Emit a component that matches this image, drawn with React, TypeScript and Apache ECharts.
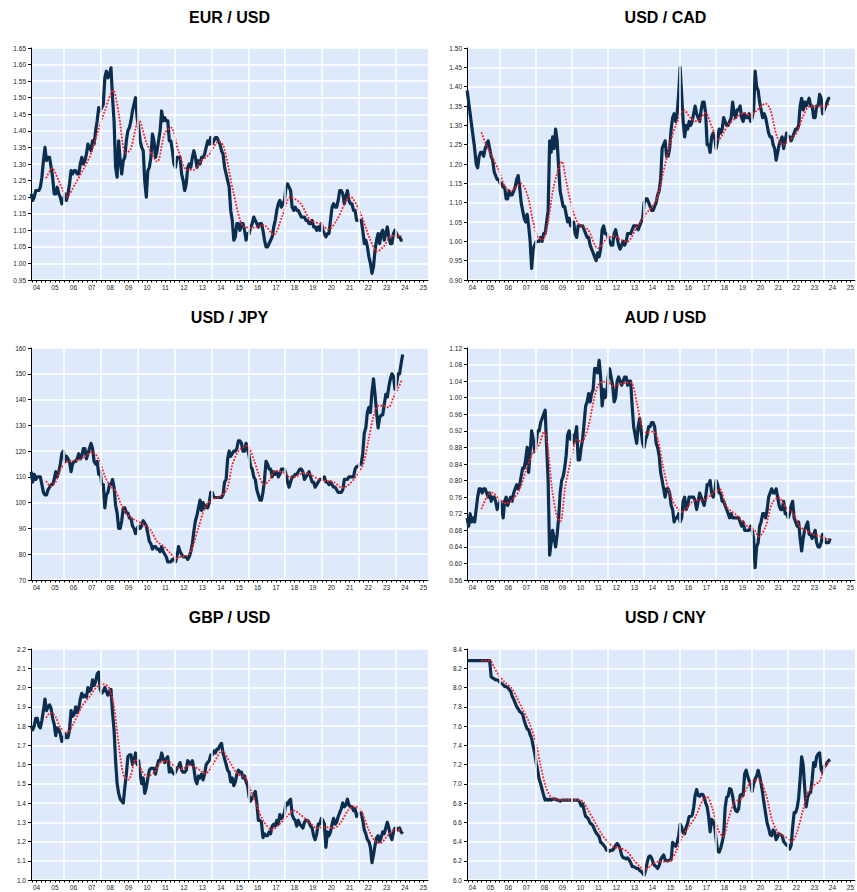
import React, { useEffect, useRef } from "react";
import * as echarts from "echarts";

// Monthly observations, first one = mid-March 2004, one per month through end of April 2024
const START_YEAR = 2004 + 2.5 / 12;
const MONTH = 1 / 12;
const X_MIN = 2004.2;
const X_MAX = 2025.75;

const yearLabels = [2004, 2005, 2006, 2007, 2008, 2009, 2010, 2011, 2012, 2013, 2014, 2015, 2016, 2017, 2018, 2019, 2020, 2021, 2022, 2023, 2024, 2025];
const gridYears = [2006, 2008, 2010, 2012, 2014, 2016, 2018, 2020, 2022, 2024];

const eurusd = [
  1.21, 1.19, 1.20, 1.22, 1.22, 1.22, 1.23, 1.26, 1.31, 1.35,
  1.31, 1.32, 1.32, 1.29, 1.26, 1.21, 1.21, 1.23, 1.21, 1.20, 1.18, 1.19,
  1.21, 1.19, 1.21, 1.24, 1.28, 1.27, 1.28, 1.28, 1.27, 1.27, 1.30, 1.32,
  1.30, 1.31, 1.33, 1.36, 1.35, 1.34, 1.37, 1.36, 1.40, 1.43, 1.47, 1.46,
  1.47, 1.48, 1.56, 1.58, 1.56, 1.57, 1.59, 1.50, 1.43, 1.29, 1.26, 1.37,
  1.31, 1.27, 1.31, 1.32, 1.37, 1.40, 1.41, 1.43, 1.46, 1.48, 1.50, 1.44,
  1.41, 1.37, 1.35, 1.34, 1.25, 1.20, 1.28, 1.29, 1.32, 1.39, 1.37, 1.32,
  1.34, 1.37, 1.40, 1.46, 1.43, 1.44, 1.43, 1.43, 1.37, 1.37, 1.34, 1.30,
  1.29, 1.32, 1.32, 1.32, 1.27, 1.25, 1.22, 1.24, 1.29, 1.30, 1.29, 1.32,
  1.34, 1.32, 1.29, 1.31, 1.30, 1.32, 1.32, 1.33, 1.35, 1.37, 1.36, 1.38,
  1.36, 1.37, 1.38, 1.38, 1.37, 1.36, 1.34, 1.33, 1.29, 1.27, 1.25, 1.23,
  1.16, 1.13, 1.07, 1.08, 1.12, 1.12, 1.10, 1.12, 1.12, 1.10, 1.07, 1.09,
  1.09, 1.11, 1.12, 1.14, 1.13, 1.12, 1.11, 1.12, 1.12, 1.10, 1.07, 1.05,
  1.05, 1.06, 1.07, 1.08, 1.11, 1.13, 1.16, 1.18, 1.19, 1.17, 1.18, 1.19,
  1.23, 1.24, 1.23, 1.22, 1.17, 1.16, 1.17, 1.16, 1.16, 1.15, 1.14, 1.14,
  1.14, 1.13, 1.13, 1.12, 1.12, 1.13, 1.11, 1.11, 1.10, 1.11, 1.10, 1.12,
  1.10, 1.09, 1.08, 1.09, 1.09, 1.13, 1.17, 1.18, 1.17, 1.17, 1.19, 1.22,
  1.22, 1.21, 1.18, 1.20, 1.22, 1.19, 1.18, 1.18, 1.16, 1.16, 1.13, 1.13,
  1.13, 1.13, 1.10, 1.06, 1.07, 1.05, 1.02, 1.00, 0.97, 0.99, 1.04, 1.07,
  1.09, 1.06, 1.09, 1.10, 1.07, 1.09, 1.11, 1.08, 1.06, 1.06, 1.09, 1.10,
  1.09, 1.08, 1.08, 1.07, 1.07,
];

const usdcad = [
  1.39, 1.36, 1.33, 1.30, 1.27, 1.24, 1.20, 1.19, 1.22, 1.23,
  1.23, 1.22, 1.24, 1.25, 1.26, 1.24, 1.22, 1.21, 1.18, 1.17, 1.16, 1.16,
  1.15, 1.15, 1.14, 1.14, 1.11, 1.11, 1.13, 1.12, 1.12, 1.13, 1.14, 1.16,
  1.17, 1.14, 1.10, 1.08, 1.06, 1.05, 1.07, 1.04, 1.00, 0.93, 0.98, 0.99,
  1.00, 1.00, 1.00, 1.01, 1.00, 1.02, 1.02, 1.05, 1.08, 1.26, 1.23, 1.27,
  1.24, 1.29, 1.26, 1.19, 1.13, 1.11, 1.09, 1.09, 1.07, 1.05, 1.06, 1.04,
  1.05, 1.05, 1.02, 1.01, 1.04, 1.04, 1.04, 1.04, 1.03, 1.02, 1.01, 1.01,
  0.99, 0.98, 0.97, 0.96, 0.95, 0.97, 0.96, 0.98, 1.03, 1.04, 1.02, 1.02,
  1.01, 1.00, 0.99, 0.99, 1.02, 1.03, 1.01, 0.99, 0.98, 0.99, 1.00, 0.99,
  1.00, 1.02, 1.02, 1.02, 1.03, 1.04, 1.04, 1.04, 1.03, 1.04, 1.05, 1.06,
  1.10, 1.11, 1.11, 1.10, 1.09, 1.08, 1.08, 1.09, 1.10, 1.12, 1.13, 1.16,
  1.24, 1.25, 1.26, 1.22, 1.22, 1.24, 1.29, 1.32, 1.33, 1.31, 1.33, 1.38,
  1.45, 1.38, 1.31, 1.27, 1.30, 1.29, 1.31, 1.30, 1.31, 1.33, 1.35, 1.33,
  1.32, 1.31, 1.34, 1.36, 1.36, 1.33, 1.25, 1.25, 1.23, 1.27, 1.28, 1.27,
  1.24, 1.26, 1.29, 1.28, 1.29, 1.32, 1.31, 1.30, 1.30, 1.31, 1.32, 1.36,
  1.33, 1.32, 1.34, 1.34, 1.35, 1.32, 1.31, 1.33, 1.32, 1.32, 1.33, 1.31,
  1.32, 1.34, 1.44, 1.40, 1.39, 1.36, 1.34, 1.32, 1.33, 1.32, 1.30, 1.28,
  1.27, 1.27, 1.25, 1.24, 1.21, 1.23, 1.25, 1.26, 1.27, 1.24, 1.26, 1.28,
  1.27, 1.27, 1.26, 1.27, 1.28, 1.29, 1.29, 1.30, 1.35, 1.37, 1.34, 1.36,
  1.35, 1.36, 1.37, 1.35, 1.35, 1.32, 1.32, 1.35, 1.35, 1.38, 1.37, 1.33,
  1.34, 1.35, 1.36, 1.37, 1.37,
];

const usdjpy = [
  112, 108, 111, 109, 110, 110, 110, 107, 104, 103,
  103, 105, 106, 107, 107, 109, 112, 110, 112, 115, 119, 120,
  116, 118, 117, 116, 112, 115, 116, 116, 117, 119, 117, 118,
  121, 121, 117, 119, 121, 123, 121, 116, 115, 116, 111, 112,
  107, 107, 98, 103, 104, 107, 107, 109, 106, 99, 96, 90,
  90, 93, 98, 98, 96, 96, 94, 94, 91, 90, 88, 90,
  91, 90, 91, 93, 92, 91, 88, 85, 84, 82, 83, 83,
  82, 82, 81, 83, 81, 80, 79, 77, 77, 77, 78, 78,
  77, 79, 83, 81, 80, 79, 79, 79, 78, 79, 81, 84,
  89, 93, 95, 98, 101, 97, 100, 98, 99, 98, 100, 104,
  104, 102, 102, 102, 102, 102, 102, 103, 108, 109, 117, 120,
  118, 119, 120, 120, 121, 124, 124, 123, 120, 120, 123, 121,
  118, 114, 113, 110, 109, 105, 103, 101, 101, 104, 109, 116,
  115, 113, 113, 110, 112, 111, 112, 110, 111, 113, 113, 113,
  111, 108, 106, 108, 110, 110, 111, 111, 112, 113, 113, 112,
  109, 110, 111, 112, 110, 108, 108, 106, 107, 108, 109, 109,
  109, 110, 108, 108, 107, 108, 107, 106, 106, 105, 104, 104,
  104, 105, 109, 109, 109, 110, 110, 110, 110, 113, 114, 114,
  115, 115, 119, 127, 129, 135, 137, 135, 143, 148, 142, 135,
  129, 133, 134, 134, 138, 142, 141, 145, 148, 150, 149, 144,
  146, 150, 150, 154, 157.5,
];

const audusd = [
  0.71, 0.69, 0.72, 0.70, 0.71, 0.70, 0.73, 0.76, 0.78, 0.78,
  0.77, 0.78, 0.78, 0.77, 0.76, 0.77, 0.75, 0.76, 0.76, 0.75, 0.73, 0.74,
  0.75, 0.74, 0.71, 0.75, 0.76, 0.74, 0.75, 0.76, 0.75, 0.77, 0.78, 0.79,
  0.78, 0.79, 0.81, 0.83, 0.83, 0.85, 0.88, 0.82, 0.87, 0.92, 0.90, 0.87,
  0.89, 0.92, 0.92, 0.94, 0.95, 0.96, 0.97, 0.88, 0.80, 0.62, 0.65, 0.68,
  0.66, 0.64, 0.67, 0.71, 0.77, 0.80, 0.81, 0.83, 0.86, 0.91, 0.92, 0.90,
  0.91, 0.89, 0.91, 0.93, 0.85, 0.85, 0.88, 0.90, 0.94, 0.98, 0.99, 1.01,
  0.99, 1.01, 1.02, 1.07, 1.07, 1.06, 1.09, 1.05, 0.98, 1.02, 1.00, 1.01,
  1.05, 1.07, 1.05, 1.03, 0.99, 1.00, 1.04, 1.05, 1.04, 1.03, 1.04, 1.05,
  1.05, 1.03, 1.04, 1.04, 0.98, 0.93, 0.91, 0.89, 0.93, 0.95, 0.92, 0.89,
  0.88, 0.90, 0.91, 0.93, 0.93, 0.94, 0.94, 0.93, 0.89, 0.88, 0.86, 0.82,
  0.80, 0.78, 0.76, 0.78, 0.78, 0.77, 0.74, 0.73, 0.70, 0.71, 0.71, 0.72,
  0.70, 0.71, 0.75, 0.76, 0.73, 0.74, 0.76, 0.76, 0.76, 0.76, 0.75, 0.73,
  0.75, 0.77, 0.76, 0.75, 0.74, 0.76, 0.79, 0.79, 0.80, 0.77, 0.76, 0.77,
  0.80, 0.79, 0.77, 0.77, 0.75, 0.75, 0.74, 0.73, 0.72, 0.71, 0.72, 0.71,
  0.71, 0.71, 0.71, 0.71, 0.70, 0.69, 0.70, 0.68, 0.68, 0.68, 0.68, 0.69,
  0.68, 0.66, 0.59, 0.64, 0.65, 0.69, 0.70, 0.72, 0.72, 0.71, 0.73, 0.76,
  0.77, 0.78, 0.77, 0.77, 0.78, 0.76, 0.74, 0.73, 0.73, 0.75, 0.72, 0.72,
  0.71, 0.72, 0.74, 0.75, 0.71, 0.70, 0.69, 0.70, 0.66, 0.63, 0.66, 0.68,
  0.69, 0.70, 0.67, 0.67, 0.66, 0.67, 0.68, 0.65, 0.64, 0.64, 0.65, 0.67,
  0.66, 0.65, 0.65, 0.65, 0.66,
];

const gbpusd = [
  1.80, 1.78, 1.80, 1.84, 1.84, 1.80, 1.79, 1.83, 1.88, 1.94,
  1.88, 1.90, 1.91, 1.89, 1.84, 1.81, 1.75, 1.79, 1.78, 1.76, 1.72, 1.73,
  1.76, 1.74, 1.74, 1.78, 1.88, 1.85, 1.86, 1.90, 1.87, 1.89, 1.94, 1.97,
  1.95, 1.96, 1.95, 2.00, 1.98, 1.99, 2.04, 2.01, 2.03, 2.07, 2.08, 1.99,
  1.97, 1.98, 2.00, 1.98, 1.96, 1.98, 1.99, 1.87, 1.78, 1.62, 1.50, 1.45,
  1.42, 1.41, 1.40, 1.48, 1.55, 1.64, 1.65, 1.65, 1.60, 1.62, 1.66, 1.60,
  1.62, 1.55, 1.50, 1.53, 1.45, 1.48, 1.53, 1.57, 1.58, 1.58, 1.58, 1.55,
  1.59, 1.62, 1.62, 1.66, 1.63, 1.61, 1.63, 1.64, 1.56, 1.58, 1.56, 1.55,
  1.56, 1.58, 1.59, 1.61, 1.57, 1.56, 1.56, 1.57, 1.62, 1.61, 1.60, 1.62,
  1.58, 1.52, 1.50, 1.54, 1.53, 1.55, 1.52, 1.55, 1.60, 1.61, 1.62, 1.65,
  1.65, 1.67, 1.66, 1.68, 1.68, 1.70, 1.71, 1.66, 1.63, 1.60, 1.57, 1.56,
  1.51, 1.53, 1.49, 1.51, 1.55, 1.57, 1.56, 1.56, 1.53, 1.54, 1.51, 1.49,
  1.43, 1.41, 1.43, 1.44, 1.46, 1.40, 1.31, 1.31, 1.30, 1.22, 1.24, 1.23,
  1.23, 1.25, 1.24, 1.28, 1.29, 1.28, 1.31, 1.29, 1.34, 1.32, 1.33, 1.35,
  1.40, 1.39, 1.41, 1.42, 1.34, 1.32, 1.31, 1.28, 1.31, 1.29, 1.28, 1.27,
  1.30, 1.31, 1.31, 1.30, 1.28, 1.27, 1.23, 1.21, 1.24, 1.29, 1.29, 1.32,
  1.31, 1.29, 1.17, 1.25, 1.23, 1.25, 1.29, 1.32, 1.29, 1.30, 1.33, 1.35,
  1.37, 1.40, 1.38, 1.39, 1.42, 1.39, 1.38, 1.38, 1.36, 1.37, 1.33, 1.34,
  1.35, 1.35, 1.31, 1.26, 1.24, 1.21, 1.20, 1.17, 1.09, 1.13, 1.18, 1.22,
  1.23, 1.20, 1.22, 1.25, 1.24, 1.27, 1.30, 1.27, 1.23, 1.21, 1.25, 1.27,
  1.27, 1.26, 1.27, 1.25, 1.24,
];

const usdcny = [
  8.28, 8.28, 8.28, 8.28, 8.28, 8.28, 8.28, 8.28, 8.28, 8.28,
  8.28, 8.28, 8.28, 8.28, 8.28, 8.28, 8.11, 8.10, 8.09, 8.08, 8.08, 8.07,
  8.05, 8.04, 8.03, 8.01, 8.01, 8.00, 7.98, 7.96, 7.91, 7.88, 7.84, 7.80,
  7.78, 7.75, 7.74, 7.72, 7.66, 7.61, 7.57, 7.56, 7.51, 7.47, 7.39, 7.32,
  7.22, 7.14, 7.05, 7.00, 6.94, 6.88, 6.83, 6.84, 6.83, 6.84, 6.83, 6.84,
  6.84, 6.84, 6.83, 6.83, 6.82, 6.83, 6.83, 6.83, 6.83, 6.83, 6.83, 6.83,
  6.83, 6.83, 6.83, 6.83, 6.83, 6.81, 6.77, 6.79, 6.72, 6.66, 6.65, 6.63,
  6.59, 6.58, 6.56, 6.52, 6.49, 6.47, 6.45, 6.39, 6.38, 6.36, 6.34, 6.31,
  6.31, 6.30, 6.31, 6.31, 6.33, 6.36, 6.38, 6.36, 6.32, 6.26, 6.23, 6.23,
  6.22, 6.23, 6.21, 6.18, 6.14, 6.14, 6.13, 6.12, 6.12, 6.10, 6.09, 6.07,
  6.05, 6.10, 6.18, 6.24, 6.25, 6.23, 6.18, 6.15, 6.14, 6.12, 6.15, 6.21,
  6.24, 6.26, 6.21, 6.20, 6.20, 6.21, 6.21, 6.39, 6.37, 6.35, 6.39, 6.46,
  6.58, 6.55, 6.49, 6.48, 6.55, 6.59, 6.66, 6.66, 6.67, 6.75, 6.88, 6.94,
  6.88, 6.87, 6.89, 6.89, 6.86, 6.80, 6.76, 6.66, 6.50, 6.63, 6.61, 6.56,
  6.42, 6.30, 6.29, 6.33, 6.39, 6.47, 6.75, 6.86, 6.87, 6.95, 6.94, 6.87,
  6.77, 6.72, 6.71, 6.74, 6.88, 6.89, 6.88, 7.10, 7.14, 7.08, 7.03, 7.00,
  6.92, 7.00, 7.05, 7.08, 7.14, 7.08, 7.00, 6.90, 6.79, 6.69, 6.59, 6.54,
  6.47, 6.46, 6.52, 6.50, 6.42, 6.45, 6.48, 6.47, 6.46, 6.40, 6.38, 6.36,
  6.36, 6.32, 6.36, 6.55, 6.70, 6.70, 6.75, 6.85, 7.05, 7.28, 7.20, 6.97,
  6.76, 6.86, 6.90, 6.91, 7.04, 7.22, 7.18, 7.28, 7.31, 7.32, 7.15, 7.12,
  7.18, 7.19, 7.22, 7.24, 7.25,
];

// Moving averages (red dotted) read as [year, value]
const eurusdMA = [
  [2005.02, 1.257], [2005.35, 1.287], [2005.7, 1.25], [2006.16, 1.202], [2006.6, 1.24], [2007.07, 1.287],
  [2007.45, 1.33], [2007.8, 1.393], [2008.2, 1.46], [2008.66, 1.522], [2008.97, 1.449], [2009.33, 1.333],
  [2009.6, 1.343], [2010.05, 1.433], [2010.5, 1.36], [2011.05, 1.307], [2011.46, 1.393], [2011.8, 1.41],
  [2012.2, 1.34], [2012.67, 1.282], [2013.04, 1.282], [2013.4, 1.307], [2013.85, 1.328], [2014.4, 1.368],
  [2014.66, 1.353], [2015.2, 1.212], [2015.75, 1.111], [2016.3, 1.108], [2016.83, 1.116], [2017.37, 1.086],
  [2017.83, 1.141], [2018.28, 1.2], [2018.82, 1.182], [2019.36, 1.131], [2019.9, 1.119], [2020.36, 1.103],
  [2020.8, 1.131], [2021.53, 1.202], [2022.08, 1.151], [2022.62, 1.071], [2022.98, 1.036], [2023.34, 1.051],
  [2023.7, 1.081], [2024.0, 1.084], [2024.34, 1.083],
];

const usdcadMA = [
  [2005.0, 1.282], [2005.22, 1.254], [2005.59, 1.219], [2005.95, 1.185], [2006.31, 1.142], [2006.67, 1.129],
  [2006.85, 1.137], [2007.21, 1.149], [2007.58, 1.116], [2007.85, 1.055], [2008.12, 1.012], [2008.39, 1.004],
  [2008.66, 1.038], [2009.02, 1.142], [2009.48, 1.206], [2009.66, 1.168], [2010.02, 1.09], [2010.38, 1.047],
  [2010.92, 1.03], [2011.47, 0.982], [2011.92, 1.004], [2012.37, 1.014], [2012.73, 1.004], [2013.1, 0.999],
  [2013.64, 1.038], [2014.18, 1.073], [2014.72, 1.107], [2015.09, 1.176], [2015.54, 1.263], [2015.81, 1.301],
  [2016.26, 1.34], [2016.62, 1.319], [2016.99, 1.31], [2017.44, 1.332], [2017.8, 1.297], [2018.16, 1.263],
  [2018.71, 1.301], [2019.25, 1.323], [2019.61, 1.332], [2019.97, 1.325], [2020.33, 1.34], [2020.79, 1.356],
  [2021.06, 1.34], [2021.42, 1.271], [2021.78, 1.25], [2022.14, 1.263], [2022.51, 1.28], [2022.87, 1.323],
  [2023.23, 1.349], [2023.68, 1.349], [2024.04, 1.35], [2024.34, 1.355],
];

const usdjpyMA = [
  [2005.02, 108.4], [2005.26, 106.4], [2005.53, 108.0], [2005.8, 112.9], [2006.07, 115.5], [2006.43, 116.2],
  [2006.8, 116.6], [2007.16, 118.1], [2007.52, 119.7], [2007.88, 116.8], [2008.24, 109.7], [2008.51, 106.4],
  [2008.79, 104.5], [2009.06, 99.9], [2009.42, 95.4], [2009.87, 93.2], [2010.32, 91.5], [2010.68, 89.5],
  [2011.04, 85.0], [2011.41, 83.0], [2011.77, 80.4], [2012.04, 78.5], [2012.4, 79.1], [2012.76, 79.8],
  [2013.04, 84.3], [2013.31, 90.8], [2013.67, 98.6], [2014.03, 101.2], [2014.48, 102.5], [2014.84, 105.1],
  [2015.11, 114.2], [2015.47, 120.1], [2015.93, 122.0], [2016.29, 116.8], [2016.56, 111.0], [2016.83, 107.1],
  [2017.1, 108.4], [2017.47, 112.3], [2017.92, 111.6], [2018.28, 109.7], [2018.64, 110.3], [2019.0, 111.6],
  [2019.36, 111.0], [2019.82, 109.0], [2020.27, 108.4], [2020.63, 108.0], [2021.08, 105.8], [2021.35, 106.4],
  [2021.72, 109.0], [2021.99, 111.6], [2022.26, 115.5], [2022.53, 124.6], [2022.8, 133.7], [2023.07, 137.6],
  [2023.34, 137.6], [2023.61, 137.0], [2023.88, 140.9], [2024.16, 144.8], [2024.34, 147.8],
];

const audusdMA = [
  [2005.0, 0.731], [2005.31, 0.761], [2005.59, 0.771], [2005.95, 0.757], [2006.4, 0.745], [2006.76, 0.755],
  [2007.12, 0.778], [2007.49, 0.826], [2007.85, 0.866], [2008.21, 0.886], [2008.48, 0.919], [2008.66, 0.89],
  [2008.93, 0.778], [2009.2, 0.713], [2009.39, 0.701], [2009.66, 0.786], [2010.02, 0.858], [2010.29, 0.898],
  [2010.56, 0.894], [2010.92, 0.927], [2011.29, 1.003], [2011.56, 1.035], [2012.01, 1.039], [2012.37, 1.026],
  [2012.73, 1.034], [2013.28, 1.037], [2013.64, 0.987], [2013.91, 0.931], [2014.18, 0.915], [2014.54, 0.919],
  [2014.81, 0.898], [2015.09, 0.834], [2015.45, 0.77], [2015.81, 0.737], [2016.17, 0.725], [2016.72, 0.749],
  [2017.08, 0.753], [2017.44, 0.755], [2017.99, 0.774], [2018.25, 0.779], [2018.62, 0.737], [2019.16, 0.717],
  [2019.79, 0.689], [2020.15, 0.681], [2020.42, 0.665], [2020.79, 0.689], [2021.15, 0.745], [2021.51, 0.76],
  [2021.87, 0.737], [2022.32, 0.721], [2022.69, 0.689], [2023.14, 0.677], [2023.5, 0.669], [2023.87, 0.665],
  [2024.34, 0.656],
];

const gbpusdMA = [
  [2005.02, 1.843], [2005.26, 1.87], [2005.53, 1.849], [2005.8, 1.791], [2006.16, 1.765], [2006.53, 1.817],
  [2006.98, 1.904], [2007.34, 1.948], [2007.79, 2.005], [2008.15, 2.017], [2008.42, 2.0], [2008.7, 1.904],
  [2008.97, 1.696], [2009.24, 1.539], [2009.51, 1.522], [2009.87, 1.626], [2010.23, 1.565], [2010.5, 1.539],
  [2010.87, 1.557], [2011.23, 1.609], [2011.59, 1.617], [2012.04, 1.588], [2012.4, 1.577], [2012.85, 1.597],
  [2013.31, 1.574], [2013.67, 1.553], [2014.12, 1.609], [2014.57, 1.67], [2015.02, 1.609], [2015.39, 1.553],
  [2015.84, 1.53], [2016.11, 1.47], [2016.47, 1.383], [2016.83, 1.304], [2017.29, 1.261], [2017.65, 1.287],
  [2018.1, 1.33], [2018.46, 1.362], [2018.82, 1.339], [2019.27, 1.304], [2019.73, 1.27], [2020.18, 1.275],
  [2020.63, 1.27], [2020.99, 1.296], [2021.44, 1.365], [2021.8, 1.383], [2022.17, 1.348], [2022.53, 1.261],
  [2022.89, 1.2], [2023.16, 1.191], [2023.52, 1.226], [2023.97, 1.261], [2024.34, 1.261],
];

const usdcnyMA = [
  [2005.0, 8.279], [2005.5, 8.279], [2005.68, 8.22], [2005.95, 8.133], [2006.31, 8.053], [2006.67, 7.994],
  [2006.94, 7.907], [2007.3, 7.769], [2007.67, 7.63], [2008.03, 7.422], [2008.3, 7.179], [2008.57, 6.971],
  [2008.84, 6.867], [2009.11, 6.839], [2009.66, 6.832], [2010.38, 6.832], [2010.65, 6.815], [2010.92, 6.728],
  [2011.29, 6.607], [2011.65, 6.485], [2012.01, 6.399], [2012.37, 6.34], [2012.73, 6.329], [2013.1, 6.295],
  [2013.46, 6.208], [2013.82, 6.139], [2014.09, 6.104], [2014.45, 6.156], [2014.81, 6.19], [2015.27, 6.19],
  [2015.54, 6.208], [2015.81, 6.295], [2016.17, 6.451], [2016.53, 6.555], [2016.9, 6.659], [2017.26, 6.815],
  [2017.53, 6.867], [2017.8, 6.763], [2018.16, 6.52], [2018.43, 6.451], [2018.71, 6.624], [2019.07, 6.815],
  [2019.43, 6.839], [2019.79, 6.971], [2020.15, 7.04], [2020.42, 7.04], [2020.79, 6.902], [2021.15, 6.624],
  [2021.51, 6.485], [2021.87, 6.451], [2022.24, 6.399], [2022.51, 6.485], [2022.87, 6.728], [2023.13, 6.902],
  [2023.5, 6.988], [2023.78, 7.023], [2024.04, 7.162], [2024.34, 7.24],
];

const panels = [
  { title: "EUR / USD", values: eurusd, ma: eurusdMA, min: 0.95, max: 1.65, interval: 0.05, decimals: 2 },
  { title: "USD / CAD", values: usdcad, ma: usdcadMA, min: 0.9, max: 1.5, interval: 0.05, decimals: 2 },
  { title: "USD / JPY", values: usdjpy, ma: usdjpyMA, min: 70, max: 160, interval: 10, decimals: 0 },
  { title: "AUD / USD", values: audusd, ma: audusdMA, min: 0.56, max: 1.12, interval: 0.04, decimals: 2 },
  { title: "GBP / USD", values: gbpusd, ma: gbpusdMA, min: 1.0, max: 2.2, interval: 0.1, decimals: 1 },
  { title: "USD / CNY", values: usdcny, ma: usdcnyMA, min: 6.0, max: 8.4, interval: 0.2, decimals: 1 },
];

const FONT = '"Liberation Sans", Arial, Helvetica, sans-serif';

export default function App() {
  const ref = useRef<HTMLDivElement>(null);

  useEffect(() => {
    if (!ref.current) return;
    const chart = echarts.init(ref.current, undefined, { renderer: "svg" });

    const colLeft = [31, 467];
    const rowTop = [48, 348, 649];
    const rowHeight = [232, 232, 231];
    const plotW = 397;
    const titleY = [17, 317, 617];

    const quarterTicks: number[] = [];
    for (let y = 2004; y <= 2025; y++) {
      for (let q = 0; q < 4; q++) {
        const v = y + q / 4;
        if (v > X_MIN && v < X_MAX) quarterTicks.push(v);
      }
    }
    const labelPos = yearLabels.map((y) => y + 0.5);

    const grids: any[] = [];
    const xAxes: any[] = [];
    const yAxes: any[] = [];
    const series: any[] = [];
    const graphics: any[] = [];

    panels.forEach((p, i) => {
      const col = i % 2;
      const row = Math.floor(i / 2);
      grids.push({
        left: colLeft[col],
        top: rowTop[row],
        width: plotW,
        height: rowHeight[row],
        show: true,
        backgroundColor: "#DEEAFB",
        borderWidth: 0,
        containLabel: false,
      });
      xAxes.push({
        type: "value",
        gridIndex: i,
        min: X_MIN,
        max: X_MAX,
        axisLine: { show: true, onZero: false, lineStyle: { color: "#000", width: 1 } },
        axisTick: { show: true, customValues: quarterTicks, length: 2.5, lineStyle: { color: "#000", width: 1 } },
        axisLabel: {
          show: true,
          customValues: labelPos,
          fontSize: 6.5,
          color: "#222",
          margin: 4,
          fontFamily: FONT,
          formatter: (v: number) => String(Math.floor(v) % 100).padStart(2, "0"),
        },
        splitLine: { show: false },
      });
      yAxes.push({
        type: "value",
        gridIndex: i,
        min: p.min,
        max: p.max,
        interval: p.interval,
        axisLine: { show: true, onZero: false, lineStyle: { color: "#000", width: 1 } },
        axisTick: { show: true, length: 3, lineStyle: { color: "#000", width: 1 } },
        axisLabel: {
          fontSize: 6.5,
          color: "#222",
          margin: 5,
          fontFamily: FONT,
          formatter: (v: number) => v.toFixed(p.decimals),
        },
        splitLine: { show: true, lineStyle: { color: "#FFFFFF", width: 1.5 } },
      });
      // vertical white grid lines
      series.push({
        type: "line",
        xAxisIndex: i,
        yAxisIndex: i,
        data: [],
        silent: true,
        z: 1,
        markLine: {
          silent: true,
          symbol: ["none", "none"],
          label: { show: false },
          lineStyle: { color: "#FFFFFF", width: 1.5, type: "solid" },
          emphasis: { disabled: true },
          data: gridYears.map((y) => ({ xAxis: y })),
        },
      });
      series.push({
        type: "line",
        xAxisIndex: i,
        yAxisIndex: i,
        data: p.values.map((v, k) => [START_YEAR + k * MONTH, v]),
        showSymbol: false,
        symbol: "none",
        silent: true,
        z: 2,
        lineStyle: { color: "#0B2E4E", width: 3.2, join: "round" },
      });
      series.push({
        type: "line",
        xAxisIndex: i,
        yAxisIndex: i,
        data: p.ma,
        showSymbol: false,
        symbol: "none",
        silent: true,
        smooth: 0.3,
        z: 3,
        lineStyle: { color: "#FF2020", width: 1.8, type: [1.8, 1.5] },
      });
      graphics.push({
        type: "text",
        x: colLeft[col] + plotW / 2,
        y: titleY[row],
        style: {
          text: p.title,
          fill: "#000",
          font: `bold 16px ${FONT}`,
          fontSize: 16,
          fontWeight: "bold",
          fontFamily: FONT,
          textAlign: "center",
          textVerticalAlign: "middle",
          align: "center",
          verticalAlign: "middle",
        },
      });
    });

    chart.setOption({
      animation: false,
      backgroundColor: "#FFFFFF",
      textStyle: { fontFamily: FONT },
      grid: grids,
      xAxis: xAxes,
      yAxis: yAxes,
      series,
      graphic: graphics,
    });

    return () => chart.dispose();
  }, []);

  return (
    <div
      ref={ref}
      style={{ position: "absolute", left: 0, top: 0, width: 857, height: 892 }}
    />
  );
}
